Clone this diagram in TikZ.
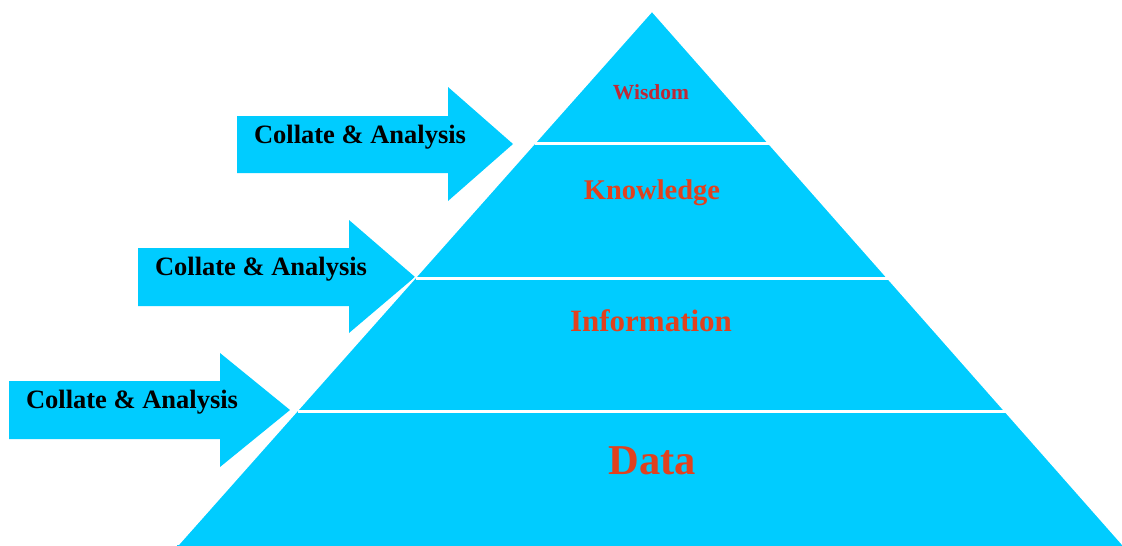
\documentclass[tikz,border=0pt]{standalone}
\usepackage{fontspec}
\setmainfont{Liberation Serif}
\definecolor{pyr}{RGB}{0,204,255}
\definecolor{wis}{RGB}{190,40,55}
\definecolor{lvl}{RGB}{225,65,30}
\begin{document}
\begin{tikzpicture}[x=1pt,y=-1pt,
  arrowtext/.style={anchor=base,font=\fontsize{26.5}{30}\selectfont\bfseries,text=black,inner sep=0pt},
  leveltext/.style={anchor=base,font=\bfseries,text=lvl,inner sep=0pt},
  sep/.style={white,line width=3pt},
  arrowshape/.style={fill=pyr,draw=none}]
\useasboundingbox (0,0) rectangle (1122,546);
\fill[white] (0,0) rectangle (1122,546);
% arrows
\fill[arrowshape] (237,116) -- (448,116) -- (448,87) -- (513,144) -- (448,201) -- (448,173) -- (237,173) -- cycle;
\fill[arrowshape] (138,248) -- (349,248) -- (349,220) -- (415,277) -- (349,333) -- (349,306) -- (138,306) -- cycle;
\fill[arrowshape] (9,381) -- (220,381) -- (220,353) -- (290,410) -- (220,467) -- (220,439) -- (9,439) -- cycle;
% pyramid
\coordinate (apex) at (652,11);
\coordinate (bl) at (177,546);
\coordinate (br) at (1124,546);
\filldraw[fill=pyr,draw=white,line width=1.5pt] (bl) -- (apex) -- (br);
\fill[pyr] (bl) -- ++(0,-1) -- (br) -- cycle;
% separators
\draw[sep] (535.2,143) -- (768.8,143);
\draw[sep] (416.2,278) -- (887.8,278);
\draw[sep] (298.1,411.5) -- (1005.9,411.5);
% texts
\node[arrowtext] (a1) at (360,143) {Collate \& Analysis};
\node[arrowtext] (a2) at (261,275) {Collate \& Analysis};
\node[arrowtext] (a3) at (132,408) {Collate \& Analysis};
\node[leveltext,text=wis,font=\fontsize{21.5}{24}\selectfont\bfseries] (wisdom) at (651,99) {Wisdom};
\node[leveltext,font=\fontsize{28.5}{32}\selectfont\bfseries] (knowledge) at (652,199) {Knowledge};
\node[leveltext,font=\fontsize{31}{35}\selectfont\bfseries] (information) at (651,331) {Information};
\node[leveltext,font=\fontsize{42.5}{48}\selectfont\bfseries] (data) at (652,474) {Data};
\end{tikzpicture}
\end{document}
